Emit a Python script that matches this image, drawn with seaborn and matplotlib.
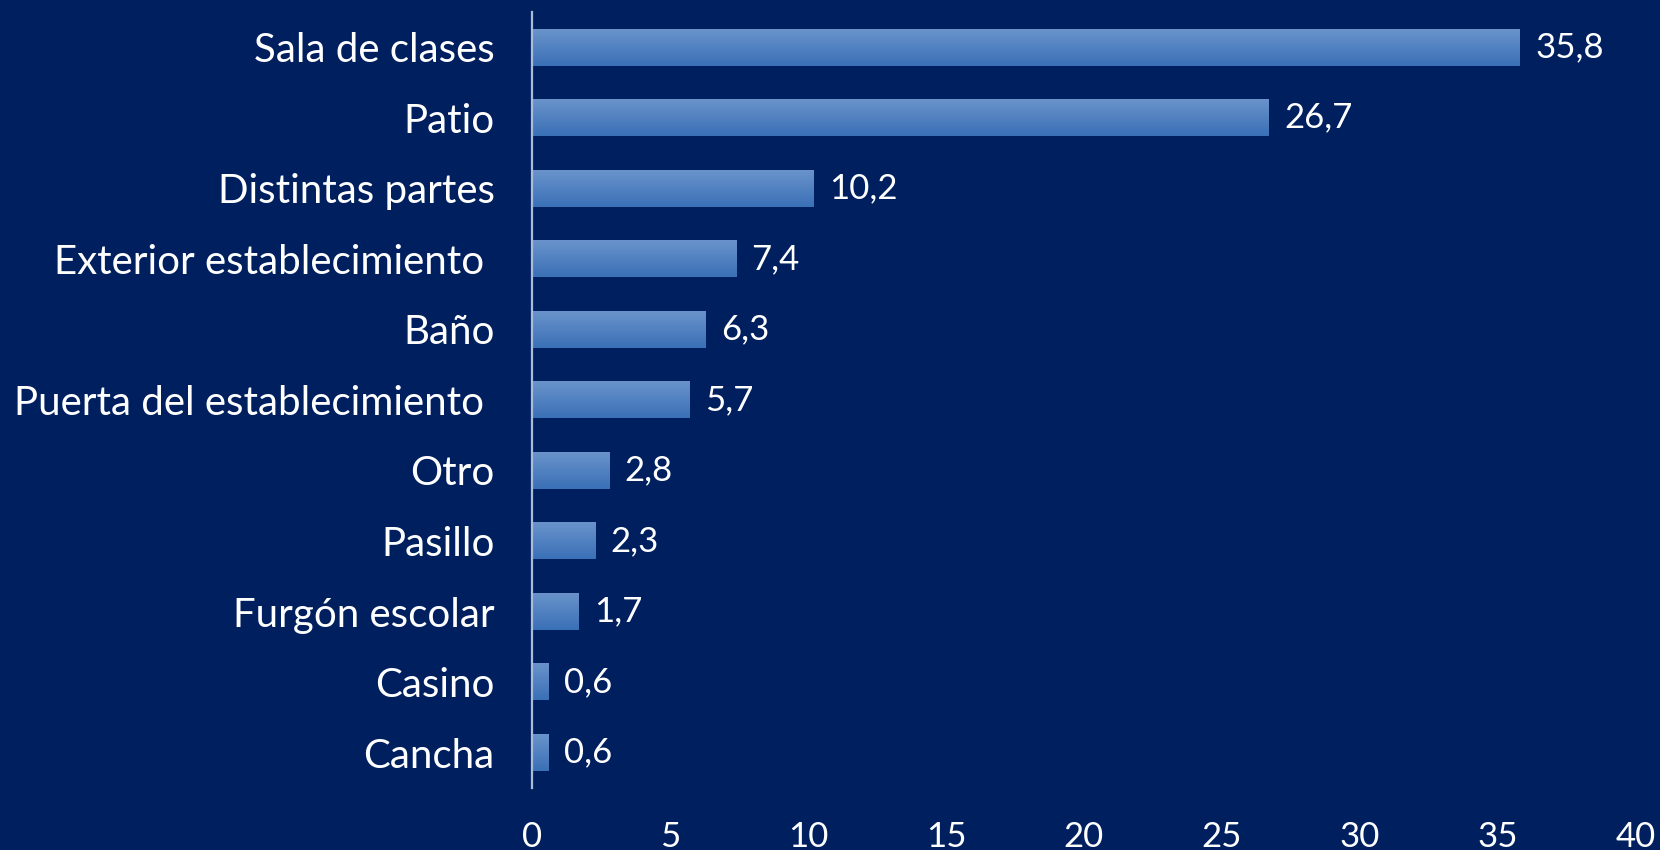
"""
Lugar de ocurrencia: barras horizontales sobre fondo azul oscuro.
"""

import numpy as np
import pandas as pd
import matplotlib
matplotlib.use("Agg")
import matplotlib.pyplot as plt
import seaborn as sns

LUGARES = ["Sala de clases", "Patio", "Distintas partes",
           "Exterior establecimiento ", "Baño",
           "Puerta del establecimiento ", "Otro", "Pasillo",
           "Furgón escolar", "Casino", "Cancha"]
PORCENTAJES = [35.8, 26.7, 10.2, 7.4, 6.3, 5.7, 2.8, 2.3, 1.7, 0.6, 0.6]
X_TICKS = [0, 5, 10, 15, 20, 25, 30, 35, 40]

BG = "#001F5F"
BAR_TOP = "#6A93CB"
BAR_BOTTOM = "#3A70B6"

sns.set_theme(style="white")
plt.rcParams["font.family"] = ["Lato", "DejaVu Sans"]

df = pd.DataFrame({"lugar": LUGARES, "pct": PORCENTAJES})

fig = plt.figure(figsize=(16.6, 8.5), dpi=100, facecolor=BG)
ax = fig.add_axes([0.3205, 0.073, 0.665, 0.913])
ax.set_facecolor(BG)

sns.barplot(data=df, x="pct", y="lugar", color=BAR_BOTTOM, width=0.52,
            ax=ax, orient="h")

# vertical gradient fill for each bar
grad = np.linspace(0, 1, 64).reshape(-1, 1)
cmap = matplotlib.colors.LinearSegmentedColormap.from_list(
    "bar", [BAR_TOP, BAR_BOTTOM])
for p in ax.patches:
    x0, y0 = p.get_x(), p.get_y()
    w, h = p.get_width(), p.get_height()
    ax.imshow(grad, cmap=cmap, aspect="auto", origin="upper",
              extent=(x0, x0 + w, y0 + h, y0), zorder=2)
    p.set_alpha(0)

ax.bar_label(ax.containers[0],
             labels=[f"{v:.1f}".replace(".", ",") for v in PORCENTAJES],
             padding=11, color="white", fontsize=25)

ax.set_xlim(0, 40)
ax.set_ylim(len(LUGARES) - 0.5, -0.5)
ax.set_xticks(X_TICKS)
ax.set(xlabel="", ylabel="")
ax.tick_params(axis="x", colors="white", labelsize=25, length=0, pad=24)
ax.tick_params(axis="y", colors="white", labelsize=29, length=0, pad=27)
for side in ["top", "right", "bottom"]:
    ax.spines[side].set_visible(False)
ax.spines["left"].set_color("#A9BCDA")
ax.spines["left"].set_linewidth(1.6)
ax.spines["left"].set_zorder(5)

fig.savefig("out.png", dpi=100, facecolor=BG)
